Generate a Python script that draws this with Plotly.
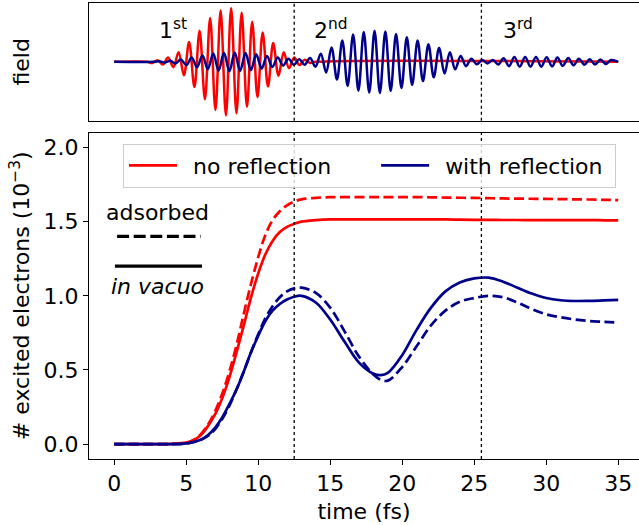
import plotly.graph_objects as go

# ---------------- data ----------------
time_grid = [0, 1, 2, 3, 4, 5, 5.5, 6, 6.5, 7, 7.5, 8, 8.5, 9, 9.5, 10, 10.5, 11, 11.5, 12,
             12.5, 13, 14, 15, 16, 17, 18, 18.5, 19, 20, 21, 22, 23, 24, 25, 26, 27, 28,
             29, 30, 31, 32, 33, 34, 35]
red_vacuo = [0, 0, 0, 0, 0.002, 0.01, 0.025, 0.06, 0.12, 0.2, 0.31, 0.45, 0.62, 0.80, 0.99,
             1.15, 1.28, 1.37, 1.43, 1.465, 1.485, 1.50, 1.51, 1.515, 1.515, 1.515, 1.515,
             1.515, 1.515, 1.515, 1.515, 1.515, 1.515, 1.513, 1.512, 1.512, 1.511, 1.511,
             1.51, 1.51, 1.51, 1.51, 1.51, 1.509, 1.508]
red_adsorbed = [0, 0, 0, 0, 0.002, 0.01, 0.028, 0.065, 0.13, 0.22, 0.34, 0.49, 0.67, 0.88,
                1.08, 1.26, 1.41, 1.51, 1.57, 1.61, 1.635, 1.65, 1.66, 1.665, 1.665, 1.665,
                1.665, 1.665, 1.665, 1.665, 1.665, 1.664, 1.662, 1.661, 1.66, 1.658, 1.656,
                1.655, 1.654, 1.653, 1.652, 1.65, 1.649, 1.647, 1.645]
blue_vacuo = [0, 0, 0, 0, 0, 0.005, 0.015, 0.03, 0.06, 0.11, 0.18, 0.27, 0.37, 0.49, 0.62,
              0.73, 0.83, 0.90, 0.945, 0.975, 0.994, 1.0, 0.955, 0.84, 0.69, 0.55, 0.475,
              0.465, 0.48, 0.60, 0.77, 0.92, 1.03, 1.09, 1.117, 1.122, 1.095, 1.055, 1.015,
              0.985, 0.97, 0.965, 0.966, 0.969, 0.972]
blue_adsorbed = [0, 0, 0, 0, 0, 0.004, 0.013, 0.028, 0.055, 0.10, 0.17, 0.26, 0.37, 0.49,
                 0.62, 0.74, 0.85, 0.93, 0.99, 1.03, 1.05, 1.055, 1.02, 0.92, 0.76, 0.59,
                 0.47, 0.435, 0.428, 0.52, 0.66, 0.80, 0.90, 0.96, 0.985, 1.0, 0.99, 0.955,
                 0.91, 0.875, 0.855, 0.84, 0.83, 0.825, 0.82]

# field: extrema (peaks / troughs)
red_field_t = [0, 2.28, 2.65, 3.01, 3.38, 3.74, 4.11, 4.47, 4.84, 5.20, 5.57, 5.93, 6.30,
               6.66, 7.03, 7.39, 7.76, 8.12, 8.49, 8.85, 9.22, 9.58, 9.95, 10.31, 10.68,
               11.04, 11.41, 11.77, 12.14, 12.50, 12.87, 13.23, 13.60, 13.97, 35]
red_field_v = [0, 0, -0.02, 0.03, -0.05, 0.08, -0.10, 0.18, -0.25, 0.37, -0.47, 0.58, -0.70,
               0.82, -0.90, 0.96, -1.00, 1.00, -0.96, 0.92, -0.84, 0.75, -0.66, 0.55, -0.46,
               0.35, -0.26, 0.18, -0.12, 0.08, -0.06, 0.04, -0.02, 0, 0]
blue_field_t = [0, 2.77, 3.14, 3.51, 3.89, 4.26, 4.63, 5.01, 5.38, 5.75, 6.13, 6.50, 6.88,
                7.25, 7.62, 8.00, 8.37, 8.74, 9.12, 9.49, 9.86, 10.24, 10.61, 10.98, 11.36,
                11.73, 12.10, 12.48, 12.85, 13.22, 13.60, 13.97, 14.35, 14.72, 15.09, 15.47,
                15.84, 16.21, 16.59, 16.96, 17.33, 17.71, 18.08, 18.45, 18.83, 19.20, 19.57,
                19.95, 20.32, 20.69, 21.07, 21.44, 21.82, 22.19, 22.56, 22.94, 23.31, 23.68,
                24.06, 24.43, 24.80, 25.18, 25.55, 25.92, 26.30, 26.67, 27.04, 27.42, 27.79,
                28.16, 28.54, 28.91, 29.29, 29.66, 30.03, 30.41, 30.78, 31.15, 31.53, 31.90,
                32.27, 32.65, 33.02, 33.39, 33.77, 34.14, 34.51, 35.0]
blue_field_v = [0, 0, 0.01, -0.015, 0.02, -0.03, 0.045, -0.06, 0.08, -0.10, 0.12, -0.14,
                0.155, -0.165, 0.17, -0.175, 0.175, -0.17, 0.165, -0.155, 0.14, -0.125, 0.11,
                -0.095, 0.08, -0.07, 0.06, -0.055, 0.05, -0.055, 0.07, -0.09, 0.15, -0.20,
                0.27, -0.33, 0.40, -0.45, 0.51, -0.54, 0.56, -0.575, 0.58, -0.58, 0.565,
                -0.545, 0.52, -0.49, 0.46, -0.43, 0.40, -0.36, 0.33, -0.29, 0.26, -0.22,
                0.18, -0.14, 0.11, -0.08, 0.06, -0.045, 0.035, -0.03, 0.035, -0.05, 0.065,
                -0.08, 0.09, -0.09, 0.09, -0.09, 0.09, -0.09, 0.085, -0.085, 0.08, -0.075,
                0.07, -0.065, 0.06, -0.055, 0.05, -0.05, 0.045, -0.04, 0.035, 0.0]

divider_times = [12.5, 25.5]
pulse_labels = ["1<sup>st</sup>", "2<sup>nd</sup>", "3<sup>rd</sup>"]
pulse_label_t = [3.0, 13.75, 26.85]
x_ticks = [0, 5, 10, 15, 20, 25, 30, 35]
y_ticks = [0.0, 0.5, 1.0, 1.5, 2.0]

# ---------------- styles ----------------
RED = "#ff0000"
BLUE = "#00008b"
FONT = "DejaVu Sans"
FS = 22
LW = 2.7
DASH = "10px,4.5px"
ESP = "\u2002"   # en space (legend spacing)
NBSP = "\u00a0"  # no-break space (legend spacing)

fig = go.Figure()

# top panel: field
fig.add_trace(go.Scatter(x=red_field_t, y=red_field_v, mode="lines", xaxis="x2", yaxis="y2",
                         line=dict(color=RED, width=2.5, shape="spline", smoothing=1),
                         showlegend=False, hoverinfo="skip"))
fig.add_trace(go.Scatter(x=blue_field_t, y=blue_field_v, mode="lines", xaxis="x2", yaxis="y2",
                         line=dict(color=BLUE, width=2.5, shape="spline", smoothing=1),
                         showlegend=False, hoverinfo="skip"))

# bottom panel
fig.add_trace(go.Scatter(x=time_grid, y=red_vacuo, mode="lines",
                         name=ESP + "no reflection" + ESP * 3 + NBSP,
                         line=dict(color=RED, width=LW, shape="spline")))
fig.add_trace(go.Scatter(x=time_grid, y=red_adsorbed, mode="lines", showlegend=False,
                         line=dict(color=RED, width=LW, dash=DASH, shape="spline")))
fig.add_trace(go.Scatter(x=time_grid, y=blue_vacuo, mode="lines",
                         name=ESP + "with reflection" + NBSP,
                         line=dict(color=BLUE, width=LW, shape="spline")))
fig.add_trace(go.Scatter(x=time_grid, y=blue_adsorbed, mode="lines", showlegend=False,
                         line=dict(color=BLUE, width=LW, dash=DASH, shape="spline")))

shapes = []
for t in divider_times:
    for xr, yr in (("x", "y domain"), ("x2", "y2 domain")):
        shapes.append(dict(type="line", xref=xr, yref=yr, x0=t, x1=t, y0=0, y1=1,
                           line=dict(color="black", width=1.3, dash="dot")))
# style key (adsorbed / in vacuo)
shapes.append(dict(type="line", xref="x", yref="y", x0=0.2, x1=6.0, y0=1.40, y1=1.40,
                   line=dict(color="black", width=3.2, dash="12px,4.6px")))
shapes.append(dict(type="line", xref="x", yref="y", x0=0.05, x1=6.1, y0=1.20, y1=1.20,
                   line=dict(color="black", width=3.2)))

annotations = []
for lab, t in zip(pulse_labels, pulse_label_t):
    annotations.append(dict(text=lab, x=t, y=0.62, xref="x2", yref="y2", xanchor="left",
                            yanchor="middle", showarrow=False,
                            font=dict(family=FONT, size=FS, color="black")))
annotations.append(dict(text="adsorbed", x=3.0, y=1.56, xref="x", yref="y", showarrow=False,
                        font=dict(family=FONT, size=FS, color="black")))
annotations.append(dict(text="<i>in vacuo</i>", x=3.0, y=1.06, xref="x", yref="y",
                        showarrow=False, font=dict(family=FONT, size=FS, color="black")))

W, H = 639, 525
ML, MR, MT, MB = 89, 0, 3, 66
PX_PER_T = 14.4
x_range = [-1.75, -1.75 + (W - ML - MR) / PX_PER_T]
plot_h = H - MT - MB
bottom_top = (H - MB - 132.6) / plot_h
top_bottom = (H - MB - 120.7) / plot_h

axis_common = dict(showline=True, linecolor="black", linewidth=1.1, showgrid=False,
                   zeroline=False, automargin=False)

fig.update_layout(
    width=W, height=H,
    margin=dict(l=ML, r=MR, t=MT, b=MB),
    paper_bgcolor="white", plot_bgcolor="white",
    font=dict(family=FONT, size=FS, color="black"),
    xaxis=dict(domain=[0, 1], range=x_range, anchor="y", tickvals=x_ticks,
               ticks="outside", ticklen=5, tickwidth=1.1, tickcolor="black", mirror=True,
               title=dict(text="time (fs)", standoff=8, font=dict(size=FS)),
               tickfont=dict(size=FS), **axis_common),
    yaxis=dict(domain=[0, bottom_top], range=[-0.1, 2.1], anchor="x", tickvals=y_ticks,
               tickformat=".1f", ticks="outside", ticklen=5, tickwidth=1.1,
               tickcolor="black",
               title=dict(text="# excited electrons (10<sup>−3</sup>)", standoff=7,
                          font=dict(size=FS)),
               tickfont=dict(size=FS), **axis_common),
    xaxis2=dict(domain=[0, 1], range=x_range, anchor="y2", matches="x", showticklabels=False,
                ticks="", mirror=True, **axis_common),
    yaxis2=dict(domain=[top_bottom, 1], range=[-1.1, 1.1], anchor="x2",
                showticklabels=False, ticks="",
                title=dict(text="field", standoff=52, font=dict(size=FS)), **axis_common),
    legend=dict(orientation="h", x=(123 - ML) / (W - ML - MR), y=(H - MB - 143.5) / plot_h,
                xanchor="left", yanchor="top", bgcolor="rgba(255,255,255,0.8)",
                bordercolor="#cccccc", borderwidth=1, font=dict(size=FS),
                itemwidth=48),
    shapes=shapes,
    annotations=annotations,
)

fig.write_html("out.html", config={"displayModeBar": False},
               post_script="document.body.style.margin='0px';")
